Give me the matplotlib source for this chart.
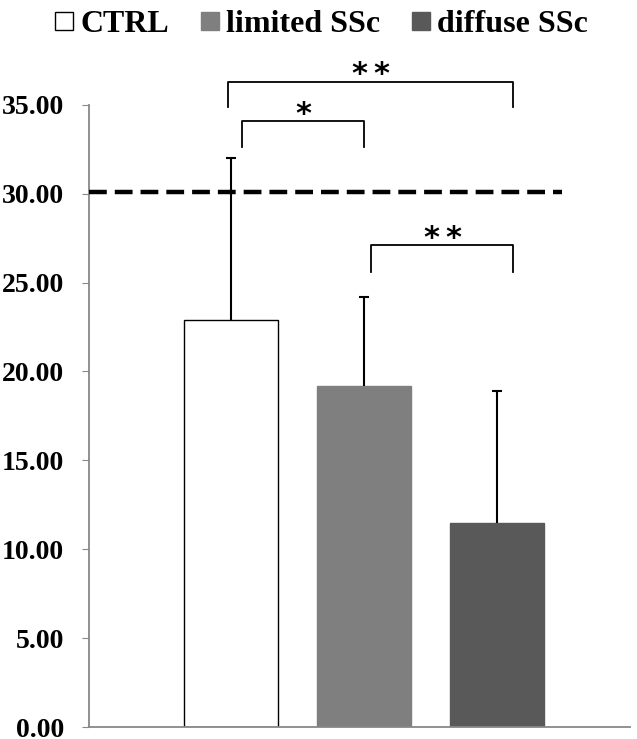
import matplotlib
matplotlib.use("Agg")
from matplotlib import pyplot as plt
from matplotlib.patches import Patch

# data
groups = ["CTRL", "limited SSc", "diffuse SSc"]
means = [22.9, 19.2, 11.5]
sds = [9.1, 5.0, 7.4]
ref_line = 30.1
yticks = [0, 5, 10, 15, 20, 25, 30, 35]

# significance brackets: (x left, x right, bracket top, leg bottom, number of stars)
brackets = [
    (-0.02, 2.124, 36.3, 34.9, 2),
    (0.086, 1.004, 34.1, 32.6, 1),
    (1.056, 2.124, 27.1, 25.6, 2),
]

colors = ["white", "#7f7f7f", "#595959"]
edges = ["black", "#7f7f7f", "#595959"]

plt.rcParams["font.family"] = ["Liberation Serif", "DejaVu Serif"]

fig = plt.figure(figsize=(6.37, 7.39), dpi=100)
ax = fig.add_axes([0.1397, 0.0162, 0.849, 0.842])

x = [0, 1, 2]
ax.bar(x, means, width=0.707, color=colors, edgecolor=edges, linewidth=1.0, zorder=2)
eb = ax.errorbar(x, means, yerr=[[0, 0, 0], sds], fmt="none", ecolor="black",
                 elinewidth=1.5, capsize=3.8, capthick=1.5, zorder=3)
# only the upper cap is shown
eb[1][0].set_visible(False)

# dashed reference line
ax.axhline(ref_line, xmin=0.0, xmax=0.874, color="black", linewidth=3.2,
           dashes=(4.0, 1.8), zorder=4)

ax.set_xlim(-1.064, 3.0)
ax.set_ylim(0, 35)
ax.set_yticks(yticks)
ax.set_yticklabels(["%.2f" % v for v in yticks], fontsize=20, fontweight="bold")
ax.set_xticks([])
ax.tick_params(axis="y", direction="out", length=5, color="#888888", pad=13)

for side in ["top", "right"]:
    ax.spines[side].set_visible(False)
for side in ["left", "bottom"]:
    ax.spines[side].set_color("#888888")
    ax.spines[side].set_linewidth(1.3)

# brackets with stars
for xa, xb, top, bot, n in brackets:
    ax.plot([xa, xa, xb, xb], [bot, top, top, bot], color="black",
            linewidth=1.3, clip_on=False, zorder=5)
    mid = (xa + xb) / 2
    for k in range(n):
        xs = mid + (k - (n - 1) / 2) * 0.165
        ax.text(xs, top - 0.1, "*", ha="center", va="baseline",
                fontsize=22, family="DejaVu Sans", fontweight="bold", clip_on=False)

handles = [Patch(facecolor=c, edgecolor=e, linewidth=1.0) for c, e in zip(colors, edges)]
fig.legend(handles, groups, loc="upper center", bbox_to_anchor=(0.505, 1.025),
           ncol=3, frameon=False, prop={"size": 23, "weight": "bold"},
           handlelength=0.56, handleheight=0.5, handletextpad=0.22,
           columnspacing=1.0)

fig.savefig("out.png", dpi=100)
